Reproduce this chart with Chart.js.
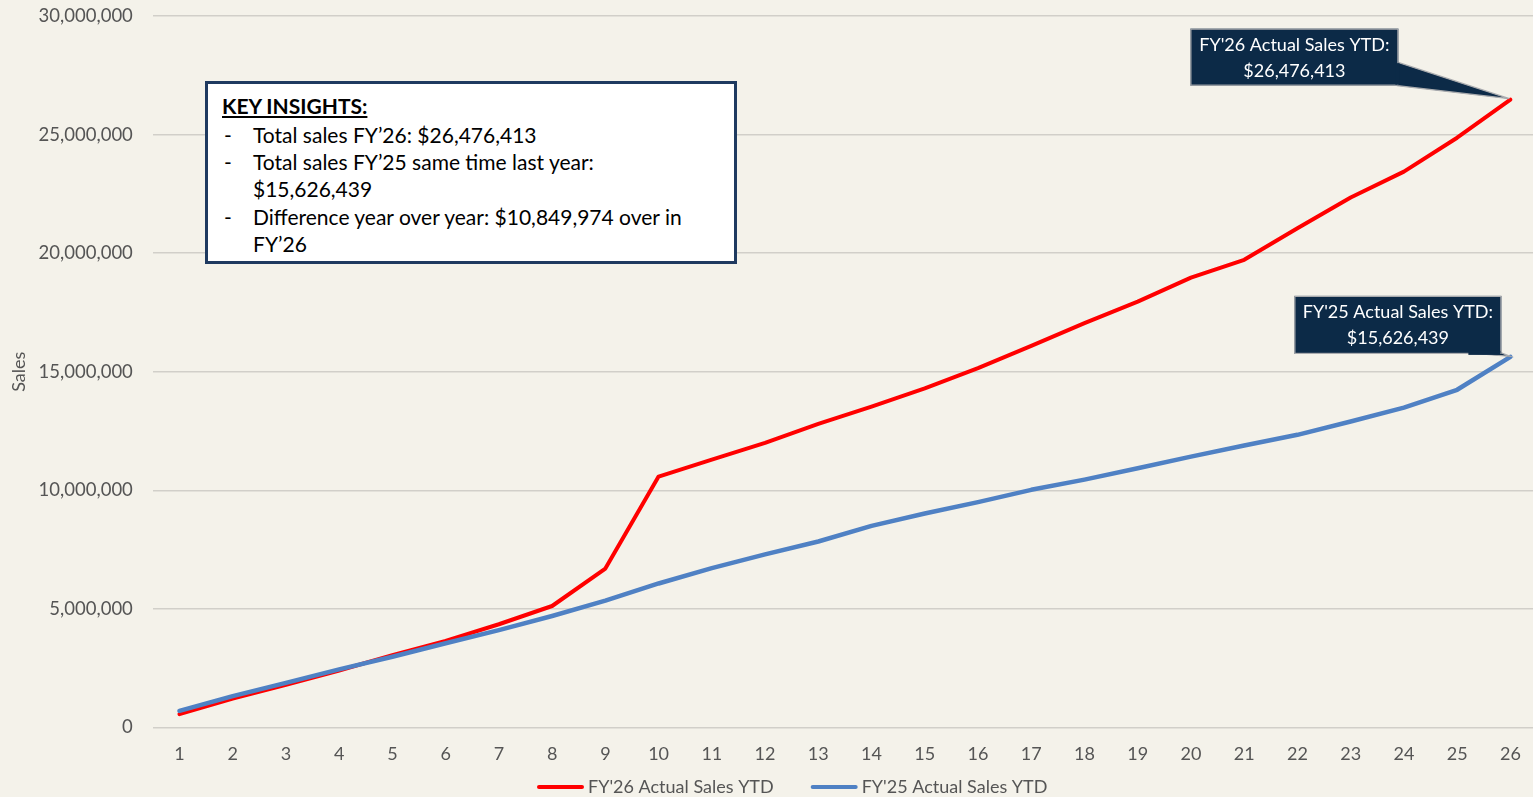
<!DOCTYPE html>
<html>
<head>
<meta charset="utf-8">
<script src="https://cdn.jsdelivr.net/npm/chart.js@4.4.1/dist/chart.umd.min.js"></script>
<style>
  html, body { margin: 0; padding: 0; overflow: hidden; background: #F4F2EA; }
  #wrap { position: relative; width: 1537px; height: 797px; overflow: hidden; }
  #plot { position: absolute; left: 0; top: -15px; width: 1537px; height: 812px; }
  #insights {
    position: absolute; left: 205px; top: 81px; width: 532px; height: 183px;
    box-sizing: border-box; border: 3px solid #1F3A60; background: #FFFFFF;
    padding: 8px 14px 0 14px; font-family: Lato, "Open Sans", sans-serif;
    font-size: 21px; line-height: 27.3px; color: #000; white-space: nowrap;
  }
  #insights .head { font-weight: bold; text-decoration: underline; margin-bottom: 1.5px; }
  #insights .row { display: flex; }
  #insights .dash { width: 31px; flex: none; padding-left: 2px; box-sizing: border-box; }
</style>
</head>
<body>
<div id="wrap">
  <div id="plot"><canvas id="chart"></canvas></div>
  <div id="insights">
    <div class="head">KEY INSIGHTS:</div>
    <div class="row"><span class="dash">-</span><span id="l1"></span></div>
    <div class="row"><span class="dash">-</span><span id="l2"></span></div>
    <div class="row"><span class="dash">-</span><span id="l3"></span></div>
  </div>
</div>
<script>
// Week numbers along the x axis
const weeks = ['1','2','3','4','5','6','7','8','9','10','11','12','13','14','15','16','17','18','19','20','21','22','23','24','25','26'];

// Cumulative sales, FY'26
const salesFY26 = [560000, 1220000, 1800000, 2400000, 3050000, 3650000, 4350000, 5120000, 6700000, 10580000,
  11290000, 12000000, 12800000, 13530000, 14300000, 15150000, 16090000, 17050000, 17960000, 18970000,
  19720000, 21050000, 22350000, 23440000, 24870000, 26476413];

// Cumulative sales, FY'25
const salesFY25 = [700000, 1320000, 1880000, 2450000, 2980000, 3550000, 4100000, 4700000, 5350000, 6070000,
  6720000, 7300000, 7840000, 8500000, 9020000, 9500000, 10020000, 10450000, 10930000, 11420000,
  11890000, 12340000, 12900000, 13490000, 14240000, 15626439];

// Y axis range
const yTicks = { min: 0, max: 30000000, step: 5000000 };

const seriesNames = ["FY'26 Actual Sales YTD", "FY'25 Actual Sales YTD"];
const seriesColors = ['#FF0000', '#4F81C4'];

const money = v => '$' + Math.round(v).toLocaleString('en-US');
const last26 = salesFY26[salesFY26.length - 1];
const last25 = salesFY25[salesFY25.length - 1];

document.getElementById('l1').textContent = 'Total sales FY\u201926: ' + money(last26);
document.getElementById('l2').innerHTML = 'Total sales FY\u201925 same time last year:<br>' + money(last25);
document.getElementById('l3').innerHTML = 'Difference year over year: ' + money(last26 - last25) + ' over in<br>FY\u201926';

const FONT = 'Lato, "Open Sans", sans-serif';
const GREY = '#555555';

// Dark call-out boxes pointing at the final value of each series
const endCallouts = {
  id: 'endCallouts',
  afterDatasetsDraw(chart) {
    const { ctx, scales: { x, y } } = chart;
    const specs = [
      { ds: 0, dx: -320, dy: -71, w: 208, h: 57, wedge: 'side' },
      { ds: 1, dx: -216, dy: -61, w: 207, h: 58, wedge: 'bottom' }
    ];
    ctx.save();
    specs.forEach(s => {
      const data = chart.data.datasets[s.ds].data;
      const i = data.length - 1;
      const px = x.getPixelForValue(i);
      const py = y.getPixelForValue(data[i]);
      const L = px + s.dx, T = py + s.dy, R = L + s.w, B = T + s.h;
      ctx.fillStyle = '#0C2A47';
      ctx.strokeStyle = '#A9ABAE';
      ctx.lineWidth = 1.2;
      // pointer
      ctx.beginPath();
      if (s.wedge === 'side') {
        ctx.moveTo(R - 1, T + 33.5);
        ctx.lineTo(px - 1, py - 1);
        ctx.lineTo(R - 1, B);
      } else {
        ctx.moveTo(R - 34, B - 1);
        ctx.lineTo(px, py - 0.5);
        ctx.lineTo(R, B - 1);
      }
      ctx.closePath();
      ctx.fill();
      ctx.stroke();
      // box
      ctx.fillRect(L, T, s.w, s.h);
      ctx.strokeRect(L + 0.5, T + 0.5, s.w - 1, s.h - 1);
      // cover the seam between box and pointer
      if (s.wedge === 'side') {
        ctx.fillRect(R - 3, T + 34.5, 4, s.h - 35.5);
      } else {
        ctx.fillRect(R - 33, B - 3, 32, 4);
      }
      ctx.fillStyle = '#FFFFFF';
      ctx.font = '18px ' + FONT;
      ctx.textAlign = 'center';
      ctx.textBaseline = 'middle';
      ctx.fillText(chart.data.datasets[s.ds].label + ':', (L + R) / 2, T + 16.5);
      ctx.fillText(money(data[i]), (L + R) / 2, T + 42.5);
    });
    ctx.restore();
  }
};

// Series key along the bottom edge
const seriesKey = {
  id: 'seriesKey',
  afterDraw(chart) {
    const { ctx } = chart;
    ctx.save();
    ctx.font = '18px ' + FONT;
    ctx.textBaseline = 'middle';
    ctx.textAlign = 'left';
    const swatch = 47, gap = 4, between = 37, yMid = chart.height - 10;
    let xPos = 537;
    chart.data.datasets.forEach(d => {
      ctx.strokeStyle = d.borderColor;
      ctx.lineWidth = 4;
      ctx.lineCap = 'round';
      ctx.beginPath();
      ctx.moveTo(xPos + 2, yMid);
      ctx.lineTo(xPos + swatch - 2, yMid);
      ctx.stroke();
      ctx.fillStyle = GREY;
      ctx.fillText(d.label, xPos + swatch + gap, yMid);
      xPos += swatch + gap + ctx.measureText(d.label).width + between;
    });
    ctx.restore();
  }
};

new Chart(document.getElementById('chart'), {
  type: 'line',
  data: {
    labels: weeks,
    datasets: [
      { label: seriesNames[0], data: salesFY26, borderColor: seriesColors[0], backgroundColor: seriesColors[0],
        borderWidth: 4, pointRadius: 0, tension: 0, borderJoinStyle: 'round', borderCapStyle: 'round', order: 1 },
      { label: seriesNames[1], data: salesFY25, borderColor: seriesColors[1], backgroundColor: seriesColors[1],
        borderWidth: 4.5, pointRadius: 0, tension: 0, borderJoinStyle: 'round', borderCapStyle: 'round', order: 0 }
    ]
  },
  options: {
    responsive: true,
    maintainAspectRatio: false,
    animation: false,
    events: [],
    layout: { padding: { top: 0, bottom: 16, left: 0, right: 0 } },
    plugins: { legend: { display: false }, tooltip: { enabled: false } },
    scales: {
      x: {
        offset: true,
        grid: { display: false, drawTicks: false },
        border: { display: false },
        ticks: { color: GREY, font: { family: FONT, size: 18 }, padding: 16, maxRotation: 0, autoSkip: false }
      },
      y: {
        min: yTicks.min, max: yTicks.max,
        grid: { color: '#D1CFC9', lineWidth: 1.5, drawTicks: false },
        border: { display: false },
        ticks: { stepSize: yTicks.step, color: GREY, font: { family: FONT, size: 18.5 }, padding: 20,
          callback: v => Number(v).toLocaleString('en-US') },
        title: { display: true, text: 'Sales', color: GREY, font: { family: FONT, size: 18 }, padding: { top: 8, bottom: -11 } }
      }
    }
  },
  plugins: [endCallouts, seriesKey]
});
</script>
</body>
</html>
